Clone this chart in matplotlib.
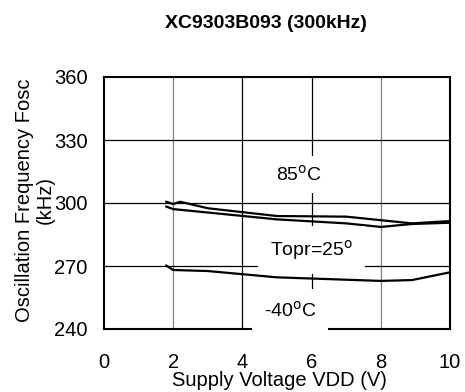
import matplotlib.pyplot as plt

plt.rcParams['font.family'] = ['Liberation Sans', 'DejaVu Sans']

# curves (VDD in V, Fosc in kHz)
vdd_85 = [1.8, 2.0, 2.2, 3.0, 5.0, 7.0, 8.9, 10.0]
fosc_85 = [300.6, 299.5, 300.6, 297.5, 293.8, 293.5, 290.3, 291.4]

vdd_25 = [1.8, 2.0, 5.0, 7.0, 8.0, 8.9, 10.0]
fosc_25 = [298.3, 297.1, 292.2, 290.3, 288.6, 290.0, 290.6]

vdd_m40 = [1.8, 2.0, 3.0, 5.0, 8.0, 8.9, 10.0]
fosc_m40 = [270.2, 268.1, 267.6, 264.6, 262.9, 263.3, 267.0]

x_ticks = [0, 2, 4, 6, 8, 10]
y_ticks = [240, 270, 300, 330, 360]

W, H = 465, 392
x0, x1, y0, y1 = 104, 450, 77, 329  # axes box in pixels

fig = plt.figure(figsize=(W / 100, H / 100), dpi=100)
ax = fig.add_axes([x0 / W, 1 - y1 / H, (x1 - x0) / W, (y1 - y0) / H])

# grid lines: 2 and 8 are grey in the original
for x in [2, 4, 6, 8]:
    c = '#808080' if x in (2, 8) else 'black'
    ax.axvline(x, color=c, lw=0.9, zorder=1)
for y in [270, 300, 330]:
    ax.axhline(y, color='black', lw=0.9, zorder=1)

ax.plot(vdd_85, fosc_85, color='black', lw=1.6, zorder=3)
ax.plot(vdd_25, fosc_25, color='black', lw=1.6, zorder=3)
ax.plot(vdd_m40, fosc_m40, color='black', lw=1.6, zorder=3)

def box(p):
    return dict(boxstyle='square,pad=%s' % p, facecolor='white', edgecolor='none')

ax.text(5.65, 313.5, '85$^{\\mathrm{o}}$C', ha='center', va='center',
        fontsize=14, bbox=box(0.45), zorder=4)
ax.text(6.0, 277.6, 'Topr=25$^{\\mathrm{o}}$', ha='center', va='center',
        fontsize=14, bbox=box(0.6), zorder=4)
ax.text(5.38, 248.6, '-40$^{\\mathrm{o}}$C', ha='center', va='center',
        fontsize=14, bbox=box(0.6), zorder=4, clip_on=False)

ax.set_xlim(0, 10)
ax.set_ylim(240, 360)
ax.set_xticks(x_ticks)
ax.set_yticks(y_ticks)
ax.tick_params(length=0, labelsize=14.5)
ax.tick_params(axis='x', pad=17)
ax.tick_params(axis='y', pad=12)
for s in ax.spines.values():
    s.set_linewidth(1.5)
    s.set_zorder(2.5)

ax.set_xlabel('Supply Voltage VDD (V)', fontsize=14.5, va='center')
ax.xaxis.set_label_coords((279.5 - x0) / (x1 - x0), (y1 - 381) / (y1 - y0))
ax.set_ylabel('Oscillation Frequency Fosc\n(kHz)', fontsize=14.5, va='center',
              linespacing=1.15)
ax.yaxis.set_label_coords((35 - x0) / (x1 - x0), (y1 - 200) / (y1 - y0))

fig.text(266 / W, 1 - 23 / H, 'XC9303B093 (300kHz)', ha='center',
         va='center', fontsize=14, fontweight='bold')

fig.savefig('out.png', dpi=100)
